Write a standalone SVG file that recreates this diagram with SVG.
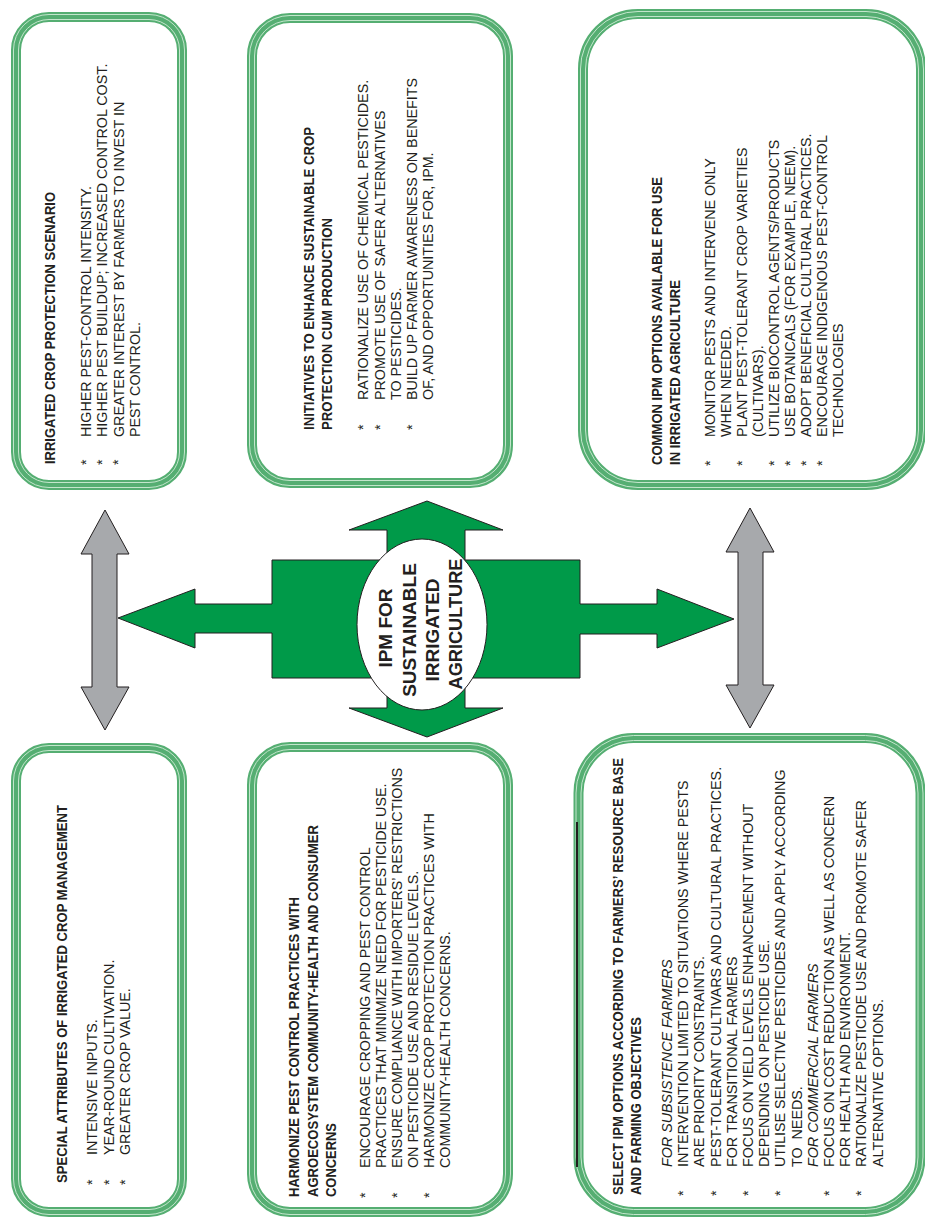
<svg xmlns="http://www.w3.org/2000/svg" width="925" height="1217" viewBox="0 0 925 1217">
<style>
.band{fill:none;stroke:#55ae72;stroke-width:10}
.thin{fill:none;stroke:#c3e6cc;stroke-width:1}
text{font-family:"Liberation Sans",Arial,sans-serif;fill:#231f20}
.t{font-weight:bold;font-size:15px}
.b{font-size:14.3px}
.i{font-style:italic}
.hub{font-weight:bold;font-size:19px;text-anchor:middle}
.green{fill:#009a49;stroke:#231f20;stroke-width:1}
.gray{fill:#a7a9ac;stroke:#231f20;stroke-width:1}
</style>
<rect width="925" height="1217" fill="#fff"/>

<g id="box-irrigated-scenario">
<rect class="band" x="16" y="17" width="166" height="468" rx="33"/>
<rect class="thin" x="13.5" y="14.5" width="171" height="473" rx="35.5"/>
<rect class="thin" x="18.5" y="19.5" width="161" height="463" rx="30.5"/>
<g transform="rotate(-90)">
<text class="t" x="-464" y="55" textLength="272" lengthAdjust="spacingAndGlyphs">IRRIGATED CROP PROTECTION SCENARIO</text>
<text class="b" x="-465" y="91">*</text><text class="b" x="-465" y="107">*</text><text class="b" x="-465" y="123">*</text>
<text class="b" x="-437" y="91">HIGHER PEST-CONTROL INTENSITY.</text>
<text class="b" x="-437" y="107">HIGHER PEST BUILDUP; INCREASED CONTROL COST.</text>
<text class="b" x="-437" y="123.5">GREATER INTEREST BY FARMERS TO INVEST IN</text>
<text class="b" x="-437" y="139.5">PEST CONTROL.</text>
</g>
</g>

<g id="box-initiatives">
<rect class="band" x="252" y="18" width="256" height="465" rx="38"/>
<rect class="thin" x="249.5" y="15.5" width="261" height="470" rx="40.5"/>
<rect class="thin" x="254.5" y="20.5" width="251" height="460" rx="35.5"/>
<g transform="rotate(-90)">
<text class="t" x="-430" y="314" textLength="303" lengthAdjust="spacingAndGlyphs">INITIATIVES TO ENHANCE SUSTAINABLE CROP</text>
<text class="t" x="-430" y="332" textLength="212" lengthAdjust="spacingAndGlyphs">PROTECTION CUM PRODUCTION</text>
<text class="b" x="-430" y="368">*</text><text class="b" x="-430" y="385">*</text><text class="b" x="-430" y="417">*</text>
<text class="b" x="-400" y="368">RATIONALIZE USE OF CHEMICAL PESTICIDES.</text>
<text class="b" x="-400" y="384.5">PROMOTE USE OF SAFER ALTERNATIVES</text>
<text class="b" x="-400" y="401">TO PESTICIDES.</text>
<text class="b" x="-400" y="417">BUILD UP FARMER AWARENESS ON BENEFITS</text>
<text class="b" x="-400" y="433">OF, AND OPPORTUNITIES FOR, IPM.</text>
</g>
</g>

<g id="box-common-ipm">
<rect class="band" x="583" y="14" width="338" height="471" rx="55"/>
<rect class="thin" x="580.5" y="11.5" width="343" height="476" rx="57.5"/>
<rect class="thin" x="585.5" y="16.5" width="333" height="466" rx="52.5"/>
<g transform="rotate(-90)">
<text class="t" x="-465" y="662" textLength="288" lengthAdjust="spacingAndGlyphs">COMMON IPM OPTIONS AVAILABLE FOR USE</text>
<text class="t" x="-465" y="680" textLength="185" lengthAdjust="spacingAndGlyphs">IN IRRIGATED AGRICULTURE</text>
<text class="b" x="-466" y="715">*</text><text class="b" x="-466" y="747">*</text><text class="b" x="-466" y="779">*</text><text class="b" x="-466" y="795">*</text><text class="b" x="-466" y="811">*</text><text class="b" x="-466" y="827">*</text>
<text class="b" x="-437" y="715">MONITOR PESTS AND INTERVENE ONLY</text>
<text class="b" x="-437" y="731">WHEN NEEDED.</text>
<text class="b" x="-437" y="747">PLANT PEST-TOLERANT CROP VARIETIES</text>
<text class="b" x="-437" y="763">(CULTIVARS).</text>
<text class="b" x="-437" y="779">UTILIZE BIOCONTROL AGENTS/PRODUCTS</text>
<text class="b" x="-437" y="795">USE BOTANICALS (FOR EXAMPLE, NEEM).</text>
<text class="b" x="-437" y="811">ADOPT BENEFICIAL CULTURAL PRACTICES.</text>
<text class="b" x="-437" y="827">ENCOURAGE INDIGENOUS PEST-CONTROL</text>
<text class="b" x="-437" y="843">TECHNOLOGIES</text>
</g>
</g>

<g id="box-special-attributes">
<rect class="band" x="16" y="748" width="166" height="464" rx="33"/>
<rect class="thin" x="13.5" y="745.5" width="171" height="469" rx="35.5"/>
<rect class="thin" x="18.5" y="750.5" width="161" height="459" rx="30.5"/>
<g transform="rotate(-90)">
<text class="t" x="-1183" y="67" textLength="378" lengthAdjust="spacingAndGlyphs">SPECIAL ATTRIBUTES OF IRRIGATED CROP MANAGEMENT</text>
<text class="b" x="-1185" y="97">*</text><text class="b" x="-1185" y="113.5">*</text><text class="b" x="-1185" y="130">*</text>
<text class="b" x="-1155" y="97">INTENSIVE INPUTS.</text>
<text class="b" x="-1155" y="113.5">YEAR-ROUND CULTIVATION.</text>
<text class="b" x="-1155" y="130">GREATER CROP VALUE.</text>
</g>
</g>

<g id="box-harmonize">
<rect class="band" x="252" y="747" width="256" height="465" rx="38"/>
<rect class="thin" x="249.5" y="744.5" width="261" height="470" rx="40.5"/>
<rect class="thin" x="254.5" y="749.5" width="251" height="460" rx="35.5"/>
<g transform="rotate(-90)">
<text class="t" x="-1197" y="299" textLength="300" lengthAdjust="spacingAndGlyphs">HARMONIZE PEST CONTROL PRACTICES WITH</text>
<text class="t" x="-1197" y="317.5" textLength="372" lengthAdjust="spacingAndGlyphs">AGROECOSYSTEM COMMUNITY-HEALTH AND CONSUMER</text>
<text class="t" x="-1197" y="336" textLength="74" lengthAdjust="spacingAndGlyphs">CONCERNS</text>
<text class="b" x="-1198" y="370">*</text><text class="b" x="-1198" y="402">*</text><text class="b" x="-1198" y="434">*</text>
<text class="b" x="-1168" y="370">ENCOURAGE CROPPING AND PEST CONTROL</text>
<text class="b" x="-1168" y="386">PRACTICES THAT MINIMIZE NEED FOR PESTICIDE USE.</text>
<text class="b" x="-1168" y="402">ENSURE COMPLIANCE WITH IMPORTERS’ RESTRICTIONS</text>
<text class="b" x="-1168" y="418">ON PESTICIDE USE AND RESIDUE LEVELS.</text>
<text class="b" x="-1168" y="434">HARMONIZE CROP PROTECTION PRACTICES WITH</text>
<text class="b" x="-1168" y="450">COMMUNITY-HEALTH CONCERNS.</text>
</g>
</g>

<g id="box-select-ipm">
<rect class="band" x="578.5" y="738" width="342" height="474" rx="55"/>
<rect class="thin" x="576" y="735.5" width="347" height="479" rx="57.5"/>
<rect class="thin" x="581" y="740.5" width="337" height="469" rx="52.5"/>
<line x1="577" y1="822" x2="577" y2="1167" stroke="#231f20" stroke-width="2"/>
<g transform="rotate(-90)">
<text class="t" x="-1195" y="623" textLength="437" lengthAdjust="spacingAndGlyphs">SELECT IPM OPTIONS ACCORDING TO FARMERS’ RESOURCE BASE</text>
<text class="t" x="-1195" y="641" textLength="178" lengthAdjust="spacingAndGlyphs">AND FARMING OBJECTIVES</text>
<text class="b" x="-1196" y="688.2">*</text><text class="b" x="-1196" y="720.6">*</text><text class="b" x="-1196" y="753">*</text><text class="b" x="-1196" y="785.4">*</text><text class="b" x="-1196" y="834">*</text><text class="b" x="-1196" y="866.4">*</text>
<text class="b i" x="-1167" y="672">FOR SUBSISTENCE FARMERS</text>
<text class="b" x="-1167" y="688.2">INTERVENTION LIMITED TO SITUATIONS WHERE PESTS</text>
<text class="b" x="-1167" y="704.4">ARE PRIORITY CONSTRAINTS.</text>
<text class="b" x="-1167" y="720.6">PEST-TOLERANT CULTIVARS AND CULTURAL PRACTICES.</text>
<text class="b" x="-1167" y="736.8">FOR TRANSITIONAL FARMERS</text>
<text class="b" x="-1167" y="753">FOCUS ON YIELD LEVELS ENHANCEMENT WITHOUT</text>
<text class="b" x="-1167" y="769.2">DEPENDING ON PESTICIDE USE.</text>
<text class="b" x="-1167" y="785.4">UTILISE SELECTIVE PESTICIDES AND APPLY ACCORDING</text>
<text class="b" x="-1167" y="801.6" xml:space="preserve">TO  NEEDS.</text>
<text class="b i" x="-1167" y="817.8">FOR COMMERCIAL FARMERS</text>
<text class="b" x="-1167" y="834">FOCUS ON COST REDUCTION AS WELL AS CONCERN</text>
<text class="b" x="-1167" y="850.2">FOR HEALTH AND ENVIRONMENT.</text>
<text class="b" x="-1167" y="866.4">RATIONALIZE PESTICIDE USE AND PROMOTE SAFER</text>
<text class="b" x="-1167" y="882.6">ALTERNATIVE OPTIONS.</text>
</g>
</g>

<g id="hub-ipm">
<polygon class="green" points="427,501 503,530 465,530 465,560 580,560 580,604 657,604 657,589 734,619 657,648 657,634 580,634 580,678 465,678 465,708 503,708 427,737 349,708 387,708 387,678 272,678 272,633 195,633 195,648 118,618 195,589 195,604 272,604 272,560 387,560 387,530 349,530"/>
<ellipse cx="422" cy="624.5" rx="65" ry="85.5" fill="#fff" stroke="#231f20" stroke-width="1"/>
<g transform="rotate(-90)">
<text class="hub" x="-628" y="392">IPM FOR</text>
<text class="hub" x="-630" y="415.5">SUSTAINABLE</text>
<text class="hub" x="-630" y="439">IRRIGATED</text>
<text class="hub" x="-624" y="462" textLength="131" lengthAdjust="spacingAndGlyphs">AGRICULTURE</text>
</g>
</g>

<g id="connectors">
<polygon class="gray" points="105,510 129,554 117,554 117,687 129,687 105,730 81,687 92,687 92,554 81,554"/>
<polygon class="gray" points="750,508 774,552 763,552 763,685 774,685 750,728 726,685 738,685 738,552 726,552"/>
</g>
</svg>
